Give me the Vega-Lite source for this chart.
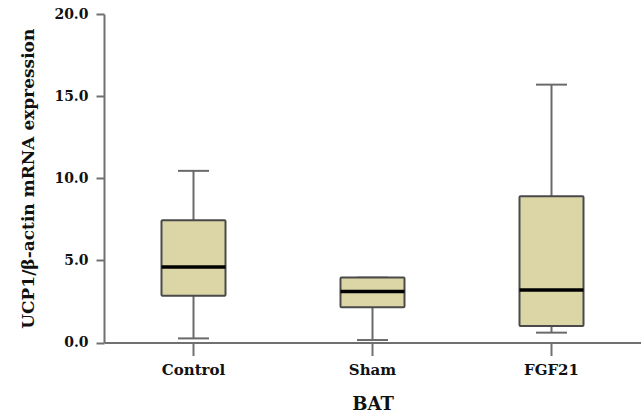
{
  "$schema": "https://vega.github.io/schema/vega-lite/v6.json",
  "autosize": "none",
  "width": 537,
  "height": 328.5,
  "padding": {"left": 104, "top": 14, "right": 0, "bottom": 73.5},
  "background": "white",
  "config": {
    "view": {"stroke": null},
    "font": "DejaVu Serif",
    "axis": {
      "domainColor": "#707070",
      "domainWidth": 2,
      "tickColor": "#707070",
      "tickWidth": 2,
      "grid": false,
      "labelFont": "DejaVu Serif",
      "labelFontWeight": "bold",
      "labelFontSize": 15,
      "labelColor": "#111111",
      "titleFont": "DejaVu Serif",
      "titleFontWeight": "bold",
      "titleColor": "#111111"
    }
  },
  "data": {
    "values": [
      {"group": "Control", "min": 0.25, "q1": 2.85, "median": 4.6, "q3": 7.45, "max": 10.45},
      {"group": "Sham", "min": 0.15, "q1": 2.15, "median": 3.1, "q3": 3.95, "max": 3.95},
      {"group": "FGF21", "min": 0.6, "q1": 1.0, "median": 3.2, "q3": 8.9, "max": 15.7}
    ]
  },
  "encoding": {
    "x": {
      "field": "group",
      "type": "nominal",
      "sort": ["Control", "Sham", "FGF21"],
      "scale": {"type": "band", "paddingInner": 0, "paddingOuter": 0},
      "axis": {
        "title": "BAT",
        "titleFontSize": 18,
        "titlePadding": 18,
        "labelAngle": 0,
        "tickSize": 13,
        "labelPadding": 7
      }
    }
  },
  "layer": [
    {
      "mark": {"type": "rule", "color": "#6a6a6a", "strokeWidth": 2},
      "encoding": {
        "y": {
          "field": "min",
          "type": "quantitative",
          "scale": {"domain": [0, 20], "nice": false},
          "axis": {
            "title": "UCP1/β-actin mRNA expression",
            "titleFontSize": 17,
            "titlePadding": 16,
            "values": [0, 5, 10, 15, 20],
            "format": ".1f",
            "tickSize": 8,
            "labelPadding": 8,
            "labelFontSize": 14
          }
        },
        "y2": {"field": "max"}
      }
    },
    {
      "mark": {"type": "tick", "color": "#6a6a6a", "opacity": 1, "thickness": 2, "size": 31},
      "encoding": {"y": {"field": "min", "type": "quantitative"}}
    },
    {
      "mark": {"type": "tick", "color": "#6a6a6a", "opacity": 1, "thickness": 2, "size": 31},
      "encoding": {"y": {"field": "max", "type": "quantitative"}}
    },
    {
      "mark": {"type": "bar", "size": 64, "fill": "#dcd6a6", "opacity": 1, "stroke": "#4a4a4a", "strokeWidth": 2, "cornerRadius": 1},
      "encoding": {
        "y": {"field": "q1", "type": "quantitative"},
        "y2": {"field": "q3"}
      }
    },
    {
      "mark": {"type": "tick", "color": "#000000", "opacity": 1, "thickness": 3.5, "size": 64},
      "encoding": {"y": {"field": "median", "type": "quantitative"}}
    }
  ]
}
